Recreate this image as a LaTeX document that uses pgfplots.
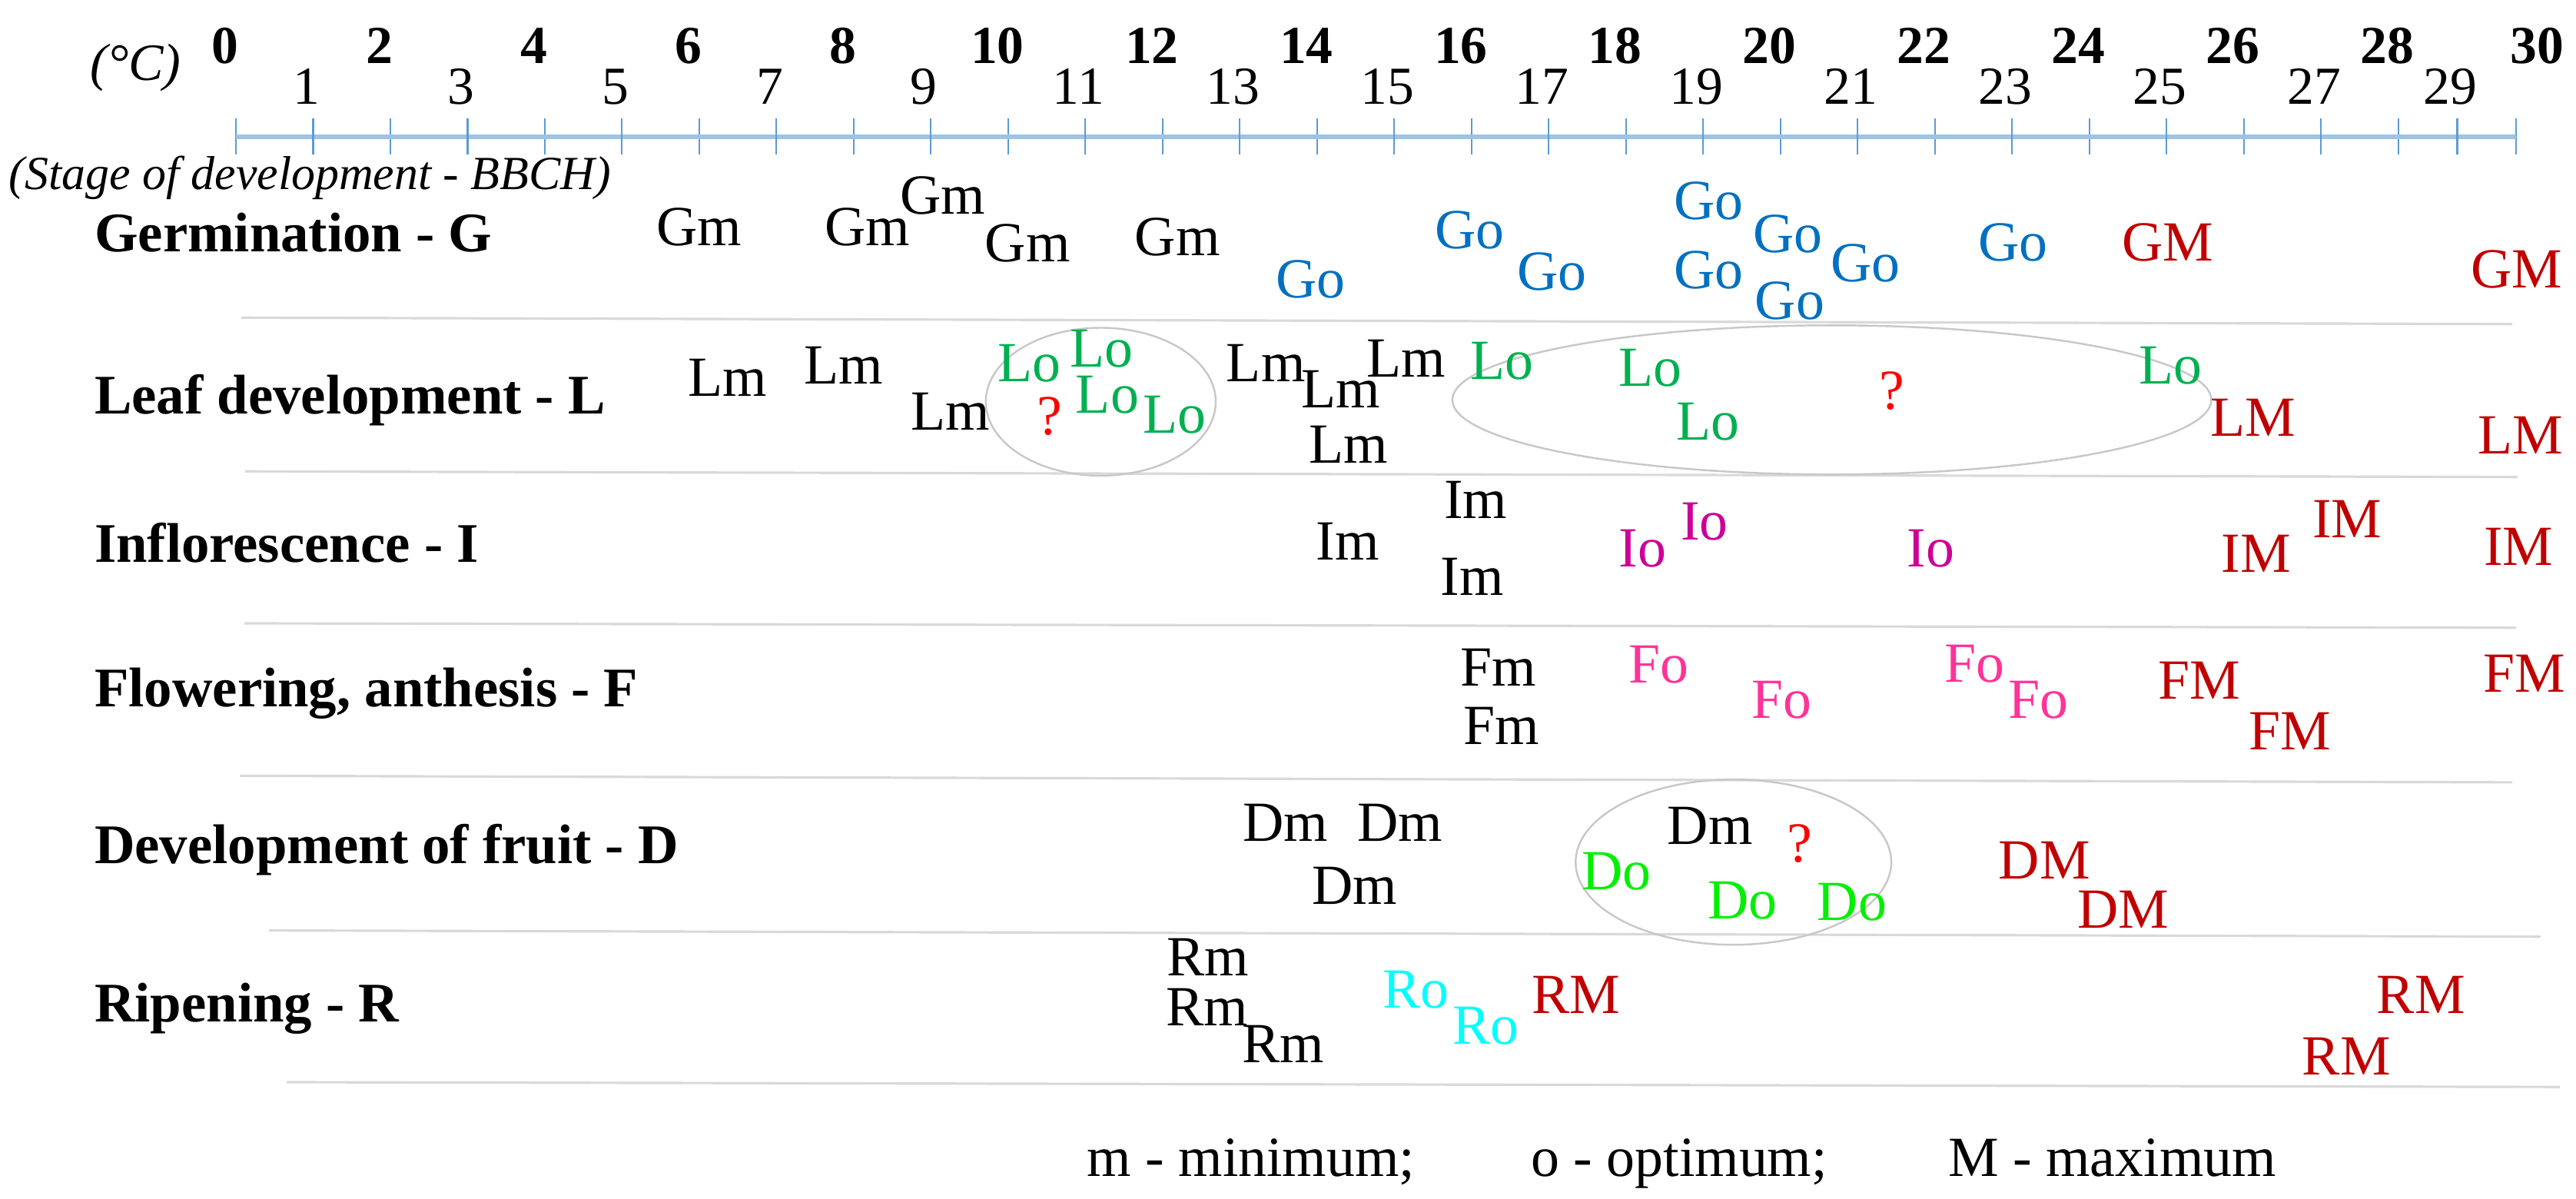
\documentclass[border=0pt]{standalone}
\usepackage{pgfplots}
\pgfplotsset{compat=1.18}
\usepackage{fontspec}
\setmainfont{Liberation Serif}

\definecolor{gocol}{RGB}{0,112,192}
\definecolor{bigM}{RGB}{192,0,0}
\definecolor{locol}{RGB}{0,176,80}
\definecolor{iocol}{RGB}{204,0,153}
\definecolor{focol}{RGB}{255,51,153}
\definecolor{docol}{RGB}{0,240,0}
\definecolor{rocol}{RGB}{0,255,255}
\definecolor{qcol}{RGB}{255,0,0}
\definecolor{rulerline}{RGB}{157,195,230}
\definecolor{rulertick}{RGB}{91,155,213}
\definecolor{sepline}{RGB}{217,217,217}
\definecolor{ellcol}{RGB}{200,200,200}

\newcommand{\lblfont}{\fontsize{21}{21}\selectfont}
\newcommand{\rowfont}{\fontsize{20.7}{21}\selectfont\bfseries}

% temperature (deg C) -> position on the drawn scale; 28..30 is drawn narrower
\pgfplotsset{
  tempscale/.style={
    x coord trafo/.code={\pgfmathparse{(##1)<=28 ? 307+100.486*(##1) : 3120.6+76.8*((##1)-28)}},
  },
  lbl/.style={only marks, mark=none, nodes near coords, point meta=explicit symbolic,
    every node near coord/.append style={anchor=center, inner sep=0pt, font=\lblfont, text=#1}},
}

\begin{document}
\begin{tikzpicture}
\begin{axis}[
  at={(0,0)}, anchor=south west,
  scale only axis, width=33.52cm, height=15.6cm,
  tempscale, xmin=-3.0552, xmax=31.013,
  ymin=0, ymax=1560, y dir=reverse,
  hide axis, clip=false,
]
% row separators
\addplot[sepline, line width=0.9pt] coordinates {(0.070,413.3) (29.932,421.7)};
\addplot[sepline, line width=0.9pt] coordinates {(0.119,613.3) (30.023,620.7)};
\addplot[sepline, line width=0.9pt] coordinates {(0.109,811.0) (29.997,816.7)};
\addplot[sepline, line width=0.9pt] coordinates {(0.050,1009.4) (29.932,1017.9)};
\addplot[sepline, line width=0.9pt] coordinates {(0.428,1210.6) (30.414,1218.7)};
\addplot[sepline, line width=0.9pt] coordinates {(0.657,1408.0) (30.740,1414.2)};

\draw[ellcol, line width=0.7pt] (axis cs:11.199,522.7) ellipse [x radius=1.496cm, y radius=0.962cm];
\draw[ellcol, line width=0.7pt] (axis cs:20.666,520.3) ellipse [x radius=4.938cm, y radius=0.970cm];
\draw[ellcol, line width=0.7pt] (axis cs:19.392,1121.7) ellipse [x radius=2.054cm, y radius=1.075cm];

% minimum
\addplot[lbl=black] table[meta=t] {
x y t
5.997 295.9 Gm
8.178 295.0 Gm
9.150 254.0 Gm
10.252 316.0 Gm
12.193 308.3 Gm
6.363 491.7 Lm
7.865 475.0 Lm
9.250 535.1 Lm
13.337 472.7 Lm
14.311 506.7 Lm
15.156 466.7 Lm
14.411 578.5 Lm
14.396 704.0 Im
16.054 650.7 Im
16.011 750.8 Im
16.343 868.4 Fm
16.388 944.0 Fm
13.592 1070.0 Dm
15.071 1070.0 Dm
14.488 1152.3 Dm
19.090 1074.7 Dm
12.584 1245.0 Rm
12.578 1310.0 Rm
13.558 1358.6 Rm
};
% optimum
\addplot[lbl=gocol] table[meta=t] {
x y t
13.920 363.9 Go
15.976 299.3 Go
17.041 353.4 Go
19.071 261.7 Go
19.071 351.7 Go
20.099 304.0 Go
20.120 391.6 Go
21.101 342.3 Go
23.009 315.5 Go
};
\addplot[lbl=locol] table[meta=t] {
x y t
10.273 472.7 Lo
11.212 453.4 Lo
11.284 514.1 Lo
12.156 540.0 Lo
16.395 470.1 Lo
18.313 478.4 Lo
19.060 548.3 Lo
25.049 476.1 Lo
};
\addplot[lbl=iocol] table[meta=t] {
x y t
18.213 714.0 Io
19.015 678.3 Io
21.950 713.4 Io
};
\addplot[lbl=focol] table[meta=t] {
x y t
18.426 865.0 Fo
20.020 910.9 Fo
22.519 863.7 Fo
23.345 910.9 Fo
};
\addplot[lbl=docol] table[meta=t] {
x y t
17.876 1133.5 Do
19.507 1171.3 Do
20.926 1174.1 Do
};
\addplot[lbl=rocol] table[meta=t] {
x y t
15.283 1287.6 Ro
16.188 1335.1 Ro
};
% maximum
\addplot[lbl=bigM] table[meta=t] {
x y t
25.019 315.5 GM
30.004 350.6 GM
26.124 543.4 LM
30.068 566.7 LM
26.160 720.0 IM
27.339 675.1 IM
30.040 711.7 IM
25.422 885.5 FM
26.600 951.5 FM
30.137 875.9 FM
23.419 1119.1 DM
24.442 1183.5 DM
17.354 1294.4 RM
28.385 1294.4 RM
27.330 1374.8 RM
};
% unknown
\addplot[lbl=qcol] table[meta=t] {
x y t
10.537 541.7 ?
21.445 508.4 ?
20.246 1097.5 ?
};

\node[anchor=base west, font=\rowfont] at (axis cs:-1.9535,328.0) {Germination - G};
\node[anchor=base west, font=\rowfont] at (axis cs:-1.9535,538.3) {Leaf development - L};
\node[anchor=base west, font=\rowfont] at (axis cs:-1.9535,731.7) {Inflorescence - I};
\node[anchor=base west, font=\rowfont] at (axis cs:-1.9535,919.4) {Flowering, anthesis - F};
\node[anchor=base west, font=\rowfont] at (axis cs:-1.9535,1123.0) {Development of fruit - D};
\node[anchor=base west, font=\rowfont] at (axis cs:-1.9535,1329.0) {Ripening - R};

\node[anchor=center, font=\fontsize{19.4}{20}\selectfont\itshape] at (axis cs:-1.2997,88.3) {(°C)};
\node[anchor=west, inner sep=0pt, font=\fontsize{17.6}{18}\selectfont\itshape] at (axis cs:-2.9457,231.7) {(Stage of development - BBCH)};

\node[anchor=base west, inner sep=0pt, font=\lblfont] at (axis cs:11.016,1530) {m - minimum;};
\node[anchor=base west, inner sep=0pt, font=\lblfont] at (axis cs:16.765,1530) {o - optimum;};
\node[anchor=base west, inner sep=0pt, font=\lblfont] at (axis cs:22.168,1530) {M - maximum};
\end{axis}

% temperature scale
\begin{axis}[
  at={(3.07cm,13.82cm)}, anchor=north west,
  scale only axis, width=29.672cm, height=1cm,
  tempscale, xmin=0, xmax=30, ymin=0, ymax=1,
  axis x line*=top, axis y line=none,
  x axis line style={-, rulerline, line width=1.5pt},
  tick align=center, major tick length=4.7mm,
  tick style={rulertick, line width=0.6pt},
  xtick={0,2,4,6,8,10,12,14,16,18,20,22,24,26,28,30},
  xticklabels={0,2,4,6,8,10,12,14,16,18,20,22,24,26,28,\hspace*{8.2mm}30},
  xticklabel style={font=\fontsize{19.8}{20}\selectfont\bfseries, anchor=center, yshift=9.45mm, xshift=-1.4mm, text=black},
  extra x ticks={1,3,5,7,9,11,13,15,17,19,21,23,25,27,29},
  extra x tick labels={1,3,5,7,9,11,13,15,17,19,21,23,25,27,29},
  extra x tick style={grid=none, xticklabel style={font=\fontsize{19.8}{20}\selectfont, yshift=-5.3mm, xshift=0.5mm}},
]
\end{axis}
\pgfresetboundingbox
\path (0,0) rectangle (33.52cm,15.6cm);
\end{tikzpicture}
\end{document}
